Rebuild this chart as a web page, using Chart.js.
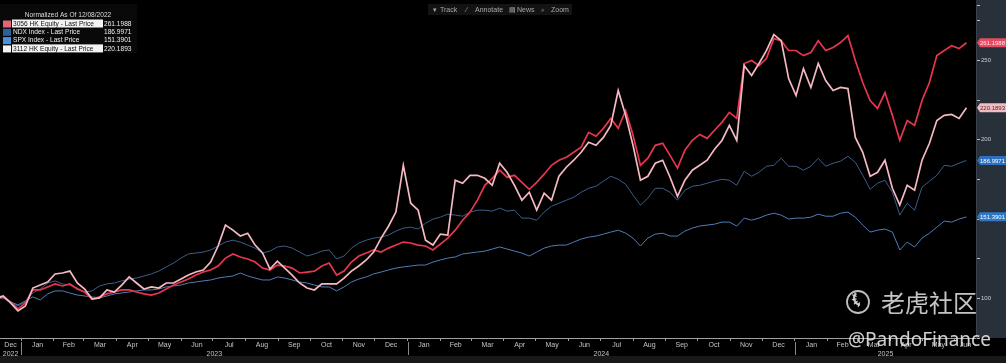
<!DOCTYPE html>
<html>
<head>
    <title>Normalized As Of 12/08/2022</title>
    <script src="https://cdn.jsdelivr.net/npm/chart.js"></script>
    <style>
        html, body { margin: 0; padding: 0; background: #000; overflow: hidden; }
    </style>
</head>
<body>
    <canvas id="perfChart" width="1006" height="363"></canvas>
    <script>
        // weekly closes, normalized to 100 on 12/08/2022
        const firstWeek = '2022-12-08';
        const axisStart = '2022-12-12';
        const axisEnd = '2025-06-21';
        const monthNames = ['Jan', 'Feb', 'Mar', 'Apr', 'May', 'Jun', 'Jul', 'Aug', 'Sep', 'Oct', 'Nov', 'Dec'];
        const yearLabels = [2022, 2023, 2024, 2025];
        const legendTitle = 'Normalized As Of 12/08/2022';
        const seriesNames = ['3056 HK Equity - Last Price', 'NDX Index - Last Price', 'SPX Index - Last Price', '3112 HK Equity - Last Price'];

        const hk3056 = [100, 100.9, 97.7, 93.4, 97.1, 105.3, 105.3, 107.2, 109.1, 107.8,
            109.1, 105.9, 104.0, 99.6, 100.9, 102.8, 104.0, 105.3, 105.3, 104.0,
            102.8, 102.1, 103.4, 105.9, 108.4, 110.3, 112.2, 114.7, 116.6, 117.9,
            120.4, 125.4, 128.0, 126.1, 124.8, 122.9, 119.1, 117.9, 121.0, 120.4,
            119.1, 116.0, 116.6, 117.2, 120.4, 122.3, 114.7, 117.2, 122.9, 126.7,
            128.6, 130.5, 129.2, 131.7, 133.6, 135.5, 134.9, 133.6, 133.0, 130.5,
            134.2, 138.0, 143.0, 149.3, 154.4, 161.9, 171.3, 175.7, 180.8, 176.4,
            177.6, 173.2, 168.8, 173.2, 178.3, 183.9, 187.1, 189.0, 192.1, 195.3,
            204.7, 202.2, 207.2, 213.5, 207.2, 218.5, 202.8, 183.9, 188.4, 196.5,
            197.8, 190.2, 182.1, 193.4, 199.7, 203.4, 200.9, 206.0, 211.0, 217.3,
            213.5, 248.1, 250.0, 246.8, 251.2, 263.8, 262.5, 256.3, 256.3, 253.1,
            255.0, 262.5, 256.3, 258.2, 261.3, 265.7, 250.0, 236.1, 224.8, 219.8,
            229.8, 215.4, 199.7, 212.2, 209.1, 224.8, 236.1, 253.1, 256.3, 259.4,
            257.5, 261.1988];

        const ndx = [100, 100.3, 97.1, 95.2, 97.7, 103.4, 105.9, 109.7, 111.0, 109.1,
            108.4, 106.5, 104.0, 104.7, 107.8, 109.1, 109.7, 111.0, 112.2, 112.8,
            114.1, 115.4, 117.2, 119.8, 122.3, 125.4, 128.0, 128.6, 129.2, 130.5,
            133.0, 135.5, 136.7, 135.5, 133.6, 131.7, 128.6, 129.8, 132.4, 133.0,
            131.7, 129.2, 126.7, 128.0, 129.8, 130.5, 124.8, 126.7, 131.7, 134.9,
            136.7, 138.0, 138.6, 139.9, 142.4, 144.3, 144.9, 143.7, 147.4, 150.0,
            151.2, 153.1, 152.5, 151.8, 154.4, 155.6, 155.6, 155.0, 156.9, 155.0,
            155.6, 150.6, 150.6, 149.3, 154.4, 158.1, 160.0, 161.9, 163.8, 166.9,
            169.4, 170.7, 173.9, 177.0, 175.1, 172.0, 165.1, 158.8, 163.2, 169.4,
            169.4, 166.9, 161.9, 168.2, 170.7, 171.3, 172.6, 173.9, 175.1, 174.5,
            171.3, 180.2, 177.0, 179.5, 183.3, 183.9, 188.4, 183.3, 183.3, 180.8,
            183.3, 188.4, 183.3, 185.2, 186.5, 189.6, 185.8, 177.6, 168.8, 172.6,
            174.5, 166.9, 152.5, 160.0, 155.6, 170.1, 173.9, 177.6, 183.9, 183.3,
            185.2, 186.9971];

        const spx = [100, 100.3, 97.7, 95.9, 98.4, 100.9, 99.0, 102.8, 104.7, 104.7,
            103.4, 102.1, 101.5, 100.9, 100.3, 101.5, 102.8, 103.4, 104.0, 104.7,
            105.3, 105.3, 105.9, 107.2, 107.8, 108.4, 109.7, 110.3, 111.0, 111.6,
            112.8, 113.5, 114.1, 116.0, 114.1, 112.8, 111.6, 111.6, 113.5, 112.8,
            111.6, 110.3, 109.7, 108.4, 107.2, 107.2, 104.7, 107.2, 110.3, 112.2,
            113.5, 115.4, 116.6, 117.9, 119.1, 119.8, 120.4, 121.0, 121.0, 122.9,
            124.2, 125.4, 126.1, 128.0, 128.6, 129.2, 129.8, 131.1, 132.4, 131.1,
            129.8, 128.6, 126.7, 129.2, 131.7, 133.0, 133.6, 133.6, 135.5, 137.4,
            138.6, 139.3, 140.5, 141.8, 143.0, 141.1, 138.0, 133.0, 138.0, 140.5,
            141.1, 139.3, 139.3, 142.4, 144.3, 145.6, 146.2, 146.8, 148.1, 148.1,
            145.6, 150.6, 149.3, 150.6, 152.5, 153.7, 152.5, 150.0, 150.6, 150.6,
            151.2, 153.1, 151.8, 151.8, 153.7, 154.4, 151.2, 146.2, 141.8, 143.0,
            143.7, 141.8, 130.5, 135.5, 132.4, 138.0, 141.1, 144.9, 148.7, 148.1,
            150.0, 151.3901];

        const hk3112 = [100, 101.5, 97.1, 92.1, 95.2, 106.5, 108.4, 110.3, 115.4, 116.0,
            117.2, 109.7, 105.9, 99.6, 100.3, 105.3, 104.0, 108.4, 113.5, 109.7,
            105.9, 107.2, 106.5, 109.7, 109.7, 112.2, 114.7, 116.6, 117.9, 122.9,
            133.0, 146.2, 143.0, 139.3, 141.1, 133.6, 128.6, 118.5, 123.5, 119.1,
            114.7, 109.7, 106.5, 105.3, 109.1, 109.1, 109.1, 112.8, 117.2, 120.4,
            124.2, 129.2, 138.0, 145.5, 154.4, 183.9, 160.0, 155.6, 136.7, 133.6,
            140.5, 139.9, 174.5, 172.6, 177.6, 177.6, 175.7, 171.3, 185.2, 179.5,
            171.3, 161.9, 166.9, 155.6, 166.3, 161.9, 177.0, 182.7, 187.1, 192.1,
            198.4, 196.5, 201.5, 209.1, 231.1, 215.4, 196.5, 174.5, 177.0, 185.2,
            187.1, 176.4, 164.4, 174.5, 180.8, 183.9, 187.1, 194.0, 199.6, 209.1,
            199.6, 246.8, 240.5, 248.1, 256.2, 266.3, 262.5, 238.6, 227.9, 244.9,
            233.0, 248.1, 237.4, 231.1, 233.0, 232.3, 201.5, 192.1, 177.0, 179.5,
            187.1, 169.4, 158.8, 171.3, 168.2, 187.1, 197.8, 212.2, 215.4, 216.0,
            213.5, 220.1893];

        const FONT = "'Liberation Sans', Arial, sans-serif";
        const lineColors = ['#e8364e', '#3d5d88', '#4f7db8', '#f6b9c2'];
        const lineWidths = [1.7, 1, 1, 1.7];
        const swatchColors = ['#e56577', '#2f5f99', '#4a91de', '#f4f4f4'];
        const tagColors = ['#ea4a60', '#2f6fbf', '#2f78c9', '#f2bcc4'];
        const tagText = ['#ffe9ec', '#ffffff', '#ffffff', '#5a2a30'];
        const highlightRow = [true, false, false, true];

        const DAY = 864e5;
        const epoch = Date.UTC(2023, 0, 1);
        const toDay = s => (Date.parse(s) - epoch) / DAY;
        const dayOf = (y, m, d) => (Date.UTC(y, m, d) - epoch) / DAY;

        const tMin = toDay(axisStart), tMax = toDay(axisEnd), t0 = toDay(firstWeek);
        const weekly = arr => arr.map((v, i) => ({ x: t0 + i * 7, y: v }));

        // month ticks: marks at month starts, names at visible month middles, years at visible year middles
        const xTicks = [];
        for (const yr of yearLabels) {
            for (let m = 0; m < 12; m++) {
                const a = dayOf(yr, m, 1), b = dayOf(yr, m + 1, 1);
                if (b <= tMin || a >= tMax) continue;
                if (a > tMin) xTicks.push({ value: a, label: '', mark: true });
                xTicks.push({ value: (Math.max(a, tMin) + Math.min(b, tMax)) / 2, label: monthNames[m], mark: false });
            }
            const ya = Math.max(dayOf(yr, 0, 1), tMin), yb = Math.min(dayOf(yr + 1, 0, 1), tMax);
            xTicks.push({ value: (ya + yb) / 2 + 0.01, label: ['', String(yr)], mark: false });
        }
        xTicks.sort((p, q) => p.value - q.value);

        const panelPlugin = {
            id: 'panel',
            beforeDraw(chart) {
                const { ctx, chartArea: a, width, height } = chart;
                ctx.save();
                ctx.fillStyle = '#000';
                ctx.fillRect(0, 0, width, height);
                ctx.fillStyle = '#28303a';
                ctx.fillRect(a.right, 0, width - a.right, a.bottom);
                ctx.fillStyle = '#181818';
                ctx.fillRect(0, 356, width, height - 356);
                // toolbar
                ctx.fillStyle = '#131313';
                ctx.fillRect(428, 4, 144, 11);
                ctx.font = `7px ${FONT}`;
                ctx.textBaseline = 'middle';
                ctx.fillStyle = '#a8a8a8';
                [['\u25BE', 433], ['Track', 440], ['\u2215', 466], ['Annotate', 475], ['\u25A4', 509], ['News', 517], ['\u2315', 541], ['Zoom', 551]]
                    .forEach(([t, x]) => ctx.fillText(t, x, 10));
                ctx.restore();
            }
        };

        const overlayPlugin = {
            id: 'overlay',
            afterDraw(chart) {
                const { ctx, chartArea: a, width } = chart;
                const xs = chart.scales.x, ys = chart.scales.y;
                ctx.save();

                // year dividers under the axis
                ctx.strokeStyle = '#8a8a8a';
                ctx.lineWidth = 1;
                yearLabels.forEach(yr => {
                    const d = dayOf(yr, 0, 1);
                    if (d <= tMin || d >= tMax) return;
                    const x = Math.round(xs.getPixelForValue(d)) + 0.5;
                    ctx.beginPath();
                    ctx.moveTo(x, a.bottom + 4);
                    ctx.lineTo(x, a.bottom + 17);
                    ctx.stroke();
                });

                // last value tags on the right axis
                ctx.font = `6px ${FONT}`;
                ctx.textBaseline = 'middle';
                ctx.textAlign = 'left';
                chart.data.datasets.forEach((ds, i) => {
                    const last = ds.data[ds.data.length - 1].y;
                    const y = ys.getPixelForValue(last);
                    ctx.fillStyle = tagColors[i];
                    ctx.beginPath();
                    ctx.moveTo(a.right + 1, y);
                    ctx.lineTo(a.right + 4, y - 4.5);
                    ctx.lineTo(width, y - 4.5);
                    ctx.lineTo(width, y + 4.5);
                    ctx.lineTo(a.right + 4, y + 4.5);
                    ctx.closePath();
                    ctx.fill();
                    ctx.fillStyle = tagText[i];
                    ctx.fillText(last.toFixed(4), a.right + 4, y + 0.5);
                });

                // legend box
                ctx.fillStyle = '#090909';
                ctx.fillRect(0, 4, 137, 49);
                ctx.font = `6.6px ${FONT}`;
                ctx.fillStyle = '#dcdcdc';
                ctx.textAlign = 'center';
                ctx.fillText(legendTitle, 68, 15);
                ctx.textAlign = 'left';
                seriesNames.forEach((name, i) => {
                    const cy = 23.5 + i * 8.3;
                    ctx.fillStyle = swatchColors[i];
                    ctx.fillRect(3, cy - 3, 8, 7);
                    if (highlightRow[i]) {
                        ctx.fillStyle = '#f3f3f3';
                        ctx.fillRect(12, cy - 4, 91, 8);
                    }
                    ctx.fillStyle = highlightRow[i] ? '#111' : '#ececec';
                    ctx.fillText(name, 13, cy + 0.5);
                    ctx.fillStyle = '#ececec';
                    const last = chart.data.datasets[i].data;
                    ctx.fillText(last[last.length - 1].y.toFixed(4), 104, cy + 0.5);
                });

                // watermark
                ctx.globalAlpha = 0.85;
                ctx.strokeStyle = '#e0e0e0';
                ctx.lineWidth = 1.8;
                ctx.beginPath();
                ctx.arc(858, 302, 11, 0, Math.PI * 2);
                ctx.stroke();
                ctx.lineWidth = 2.4;
                ctx.beginPath();
                ctx.arc(861, 298, 7, Math.PI * 0.55, Math.PI * 1.25);
                ctx.stroke();
                ctx.lineWidth = 1.2;
                for (let k = 0; k < 4; k++) {
                    const ang = Math.PI * (0.6 + k * 0.17);
                    ctx.beginPath();
                    ctx.moveTo(861 + Math.cos(ang) * 4.5, 298 + Math.sin(ang) * 4.5);
                    ctx.lineTo(861 + Math.cos(ang) * 9.5, 298 + Math.sin(ang) * 9.5);
                    ctx.stroke();
                }
                ctx.fillStyle = '#e6e6e6';
                ctx.font = "24px 'Noto Sans CJK SC'";
                ctx.textBaseline = 'middle';
                ctx.fillText('老虎社区', 881, 303);
                ctx.font = "19px 'Noto Sans', Roboto, sans-serif";
                ctx.textBaseline = 'alphabetic';
                ctx.fillStyle = '#f2f2f2';
                ctx.fillText('@PandoFinance', 848, 346);
                ctx.restore();
            }
        };

        const series = [hk3056, ndx, spx, hk3112];
        const ctx = document.getElementById('perfChart').getContext('2d');
        const chart = new Chart(ctx, {
            type: 'line',
            data: {
                datasets: series.map((arr, i) => ({
                    label: seriesNames[i],
                    data: weekly(arr),
                    borderColor: lineColors[i],
                    borderWidth: lineWidths[i],
                    pointRadius: 0,
                    tension: 0,
                    fill: false,
                    order: [2, 4, 3, 1][i]
                }))
            },
            options: {
                responsive: false,
                animation: false,
                devicePixelRatio: 1,
                layout: { autoPadding: false, padding: { top: 5, left: 0, right: 0, bottom: 0 } },
                plugins: { legend: { display: false }, tooltip: { enabled: false } },
                scales: {
                    x: {
                        type: 'linear',
                        min: tMin,
                        max: tMax,
                        afterBuildTicks: axis => { axis.ticks = xTicks.map(t => ({ value: t.value })); },
                        afterFit: axis => { axis.height = 25; },
                        ticks: {
                            autoSkip: false,
                            maxRotation: 0,
                            minRotation: 0,
                            padding: 0,
                            color: '#c4c4c4',
                            font: { family: FONT, size: 7, lineHeight: 1.25 },
                            callback: (v, i) => xTicks[i] ? xTicks[i].label : ''
                        },
                        grid: {
                            drawOnChartArea: false,
                            tickLength: 3,
                            tickColor: c => (xTicks[c.index] && xTicks[c.index].mark) ? '#9a9a9a' : 'rgba(0,0,0,0)'
                        },
                        border: { color: '#a0a0a0', width: 1 }
                    },
                    y: {
                        position: 'right',
                        min: 75,
                        max: 285,
                        afterFit: axis => { axis.width = 30; },
                        ticks: {
                            stepSize: 25,
                            padding: 1,
                            color: '#cfcfcf',
                            font: { family: FONT, size: 6 },
                            callback: v => (v % 50 === 0 ? String(v) : '')
                        },
                        grid: { drawOnChartArea: false, tickLength: 4, tickColor: '#bdbdbd' },
                        border: { color: '#3a424c', width: 1 }
                    }
                }
            },
            plugins: [panelPlugin, overlayPlugin]
        });
    </script>
</body>
</html>
